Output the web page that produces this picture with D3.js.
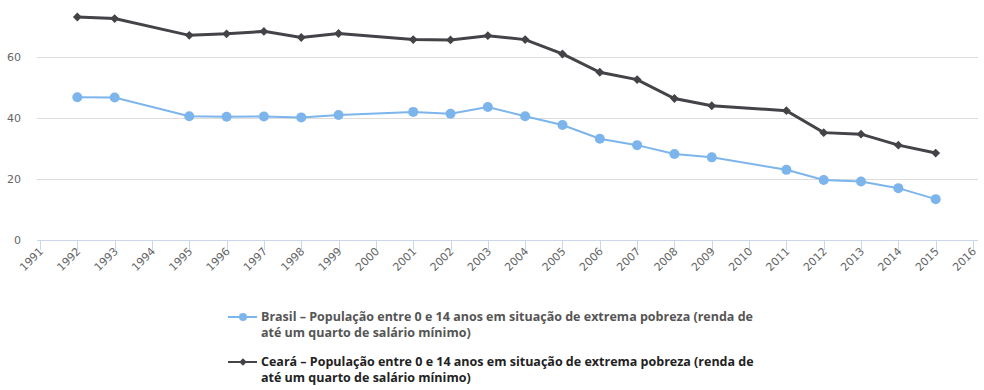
<!DOCTYPE html>
<html>
<head>
<meta charset="utf-8">
<script src="https://cdn.jsdelivr.net/npm/d3@7"></script>
<style>
  body { margin: 0; background: #fff; }
  svg { font-family: "DejaVu Sans", sans-serif; }
</style>
</head>
<body>
<div id="chart"></div>
<script>
// values
const years = [1992, 1993, 1995, 1996, 1997, 1998, 1999, 2001, 2002, 2003, 2004,
  2005, 2006, 2007, 2008, 2009, 2011, 2012, 2013, 2014, 2015];
const brasil = [46.8, 46.7, 40.6, 40.4, 40.5, 40.2, 41.0, 42.0, 41.4, 43.6, 40.6,
  37.7, 33.2, 31.1, 28.2, 27.1, 23.0, 19.7, 19.2, 17.0, 13.4];
const ceara = [73.1, 72.6, 67.1, 67.6, 68.4, 66.4, 67.7, 65.7, 65.6, 67.0, 65.7,
  61.0, 55.0, 52.6, 46.4, 44.0, 42.4, 35.2, 34.7, 31.1, 28.5];
const yTicks = [0, 20, 40, 60];
const xTicks = d3.range(1991, 2017);
const legendLines = [
  ["Brasil – População entre 0 e 14 anos em situação de extrema pobreza (renda de", "até um quarto de salário mínimo)"],
  ["Ceará – População entre 0 e 14 anos em situação de extrema pobreza (renda de", "até um quarto de salário mínimo)"]
];

const width = 984, height = 390;
const plotLeft = 37, plotRight = 978, plotBottom = 240;

const svg = d3.select("#chart").append("svg")
  .attr("width", width)
  .attr("height", height);

const x = d3.scaleLinear().domain([1991, 2016]).range([40, 973]);
const y = d3.scaleLinear().domain([0, 80]).range([plotBottom, plotBottom - 244]);

// grid lines
svg.append("g")
  .selectAll("line")
  .data(yTicks.slice(1))
  .join("line")
  .attr("x1", plotLeft)
  .attr("x2", plotRight)
  .attr("y1", d => y(d) + 0.5)
  .attr("y2", d => y(d) + 0.5)
  .attr("stroke", "#dcdcdc")
  .attr("stroke-width", 1);

// y labels
svg.append("g")
  .selectAll("text")
  .data(yTicks)
  .join("text")
  .attr("x", 21)
  .attr("y", d => y(d))
  .attr("dy", "0.35em")
  .attr("text-anchor", "end")
  .attr("font-size", 11)
  .attr("fill", "#666")
  .text(d => d);

// x axis
let xAxis = svg.append("g");
xAxis.append("line")
  .attr("x1", plotLeft)
  .attr("x2", plotRight)
  .attr("y1", plotBottom + 0.5)
  .attr("y2", plotBottom + 0.5)
  .attr("stroke", "#ccd6eb");
xAxis.selectAll("line.tick")
  .data(xTicks)
  .join("line")
  .attr("class", "tick")
  .attr("x1", d => Math.round(x(d)) + 0.5)
  .attr("x2", d => Math.round(x(d)) + 0.5)
  .attr("y1", plotBottom)
  .attr("y2", plotBottom + 10)
  .attr("stroke", "#ccd6eb");
xAxis.selectAll("text")
  .data(xTicks)
  .join("text")
  .attr("transform", d => `translate(${x(d) + 4},${plotBottom + 12}) rotate(-45)`)
  .attr("text-anchor", "end")
  .attr("font-size", 11)
  .attr("fill", "#666")
  .text(d => d);

const line = d3.line()
  .x(d => x(d[0]))
  .y(d => y(d[1]));

const diamond = d3.symbol().type(d3.symbolDiamond2).size(50);

// Brasil series
let bData = years.map((yr, i) => [yr, brasil[i]]);
svg.append("path")
  .datum(bData)
  .attr("fill", "none")
  .attr("stroke", "#7cb5ec")
  .attr("stroke-width", 2)
  .attr("d", line);
svg.append("g")
  .selectAll("circle")
  .data(bData)
  .join("circle")
  .attr("cx", d => x(d[0]))
  .attr("cy", d => y(d[1]))
  .attr("r", 5)
  .attr("fill", "#7cb5ec");

// Ceará series
let cData = years.map((yr, i) => [yr, ceara[i]]);
svg.append("path")
  .datum(cData)
  .attr("fill", "none")
  .attr("stroke", "#434348")
  .attr("stroke-width", 3)
  .attr("d", line);
svg.append("g")
  .selectAll("path")
  .data(cData)
  .join("path")
  .attr("transform", d => `translate(${x(d[0])},${y(d[1])})`)
  .attr("d", diamond)
  .attr("fill", "#434348");

// legend
const legendColors = ["#7cb5ec", "#434348"];
const legendY = [317, 362];
legendLines.forEach((lines, i) => {
  let g = svg.append("g").attr("transform", `translate(0,${legendY[i]})`);
  g.append("line")
    .attr("x1", 228).attr("x2", 257)
    .attr("y1", 0).attr("y2", 0)
    .attr("stroke", legendColors[i])
    .attr("stroke-width", 2);
  if (i === 0) {
    g.append("circle").attr("cx", 243).attr("cy", 0).attr("r", 4).attr("fill", legendColors[i]);
  } else {
    g.append("path").attr("transform", "translate(243,0)")
      .attr("d", d3.symbol().type(d3.symbolDiamond2).size(36))
      .attr("fill", legendColors[i]);
  }
  g.selectAll("text")
    .data(lines)
    .join("text")
    .attr("x", 261)
    .attr("y", (d, j) => j * 16)
    .attr("dy", "0.35em")
    .attr("font-family", "'Open Sans', sans-serif")
    .attr("font-size", 12.5)
    .attr("font-weight", "bold")
    .attr("fill", i === 0 ? "#555" : "#222")
    .text(d => d);
});
</script>
</body>
</html>
